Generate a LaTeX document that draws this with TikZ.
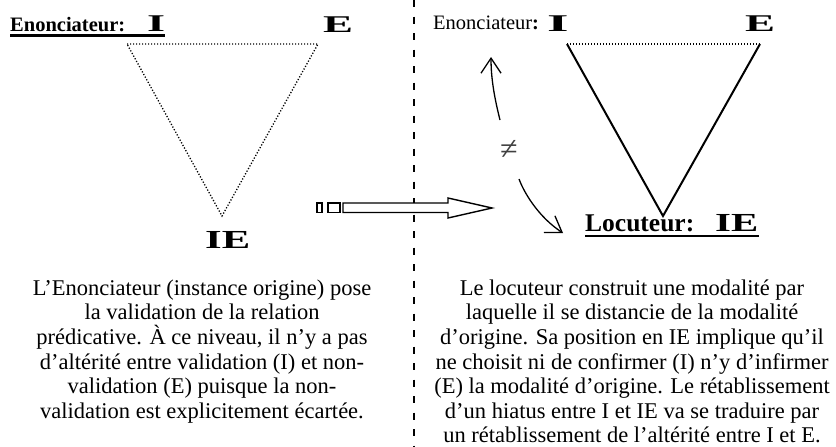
\documentclass[tikz,border=0pt]{standalone}
\usepackage{fontspec}
\usepackage{graphicx}
\setmainfont{Liberation Serif}
\usetikzlibrary{arrows.meta}
\newcommand\bigltr[3]{\scalebox{#1}[1]{\fontsize{#2}{#2}\selectfont\bfseries #3}}
\begin{document}
\begin{tikzpicture}[x=1pt,y=-1pt,
  lab/.style={inner sep=0, anchor=base west},
  body/.style={inner sep=0, anchor=north, align=center, font=\fontsize{22.5}{24.6}\selectfont},
  dotline/.style={line width=1.3pt, dash pattern=on 1.2pt off 1.8pt},
  solidside/.style={line width=2pt, line join=miter},
  uline/.style={line width=2.2pt},
  sepline/.style={line width=1.6pt, dash pattern=on 7pt off 9.5pt},
  blockarrow/.style={line width=1.4pt, fill=white, line join=miter},
  curvearrow/.style={line width=1.3pt, -{Straight Barb[length=15pt, width=20pt, line width=1.3pt]}}
]
\useasboundingbox (0,0) rectangle (836,447);

% separator
\coordinate (st) at (414,0);
\coordinate (sb) at (414,447);
\draw[sepline] (st) -- (sb);

% left header
\node[lab, font=\fontsize{20.5}{20.5}\selectfont\bfseries] (enL) at (10,31) {Enonciateur:};
\node[lab] (IL) at (147,31) {\bigltr{1.93}{24}{I}};
\draw[uline] ([yshift=-4.5pt]enL.base west) -- ([yshift=-4.5pt]IL.base east);
\node[lab] (EL) at (323,32) {\bigltr{1.87}{24}{E}};

% left triangle
\coordinate (la) at (127,44);
\coordinate (lb) at (318,44);
\coordinate (lc) at (222,216);
\draw[dotline] (la) -- (lb) -- (lc) -- cycle;
\node[lab] (IEL) at (205,248) {\bigltr{1.64}{26}{IE}};

% block arrow
\draw[blockarrow] (317,203) rectangle (322,212.5);
\draw[blockarrow] (328,203) rectangle (340,212.5);
\draw[blockarrow] (343,203) -- (448,203) -- (448,198) -- (492,208) -- (448,218) -- (448,212.5) -- (343,212.5) -- cycle;

% right header
\node[lab, font=\fontsize{20.5}{20.5}\selectfont] (enR) at (433,30) {Enonciateur\textbf{:}};
\node[lab] (IR) at (547,31) {\bigltr{2.3}{24}{I}};
\node[lab] (ER) at (745,31) {\bigltr{1.87}{24}{E}};

% right triangle
\coordinate (ra) at (567,44);
\coordinate (rb) at (760,44);
\coordinate (rc) at (663,216);
\draw[dotline] (ra) -- (rb);
\draw[solidside] (ra) -- (rc) -- (rb);

% locuteur
\node[lab, font=\fontsize{25.5}{25.5}\selectfont\bfseries] (loc) at (585,231) {Locuteur:};
\node[lab] (IER) at (715,231) {\bigltr{1.57}{26}{IE}};
\draw[uline] ([yshift=-5pt]loc.base west) -- ([yshift=-5pt]IER.base east);

% not equal and curved arrows
\node[text=black!75, inner sep=1pt, font=\fontsize{32}{32}\selectfont] (neq) at (509,150) {≠};
\coordinate (ua) at (500,120);
\coordinate (ut) at (491,57);
\draw[curvearrow] (ua) .. controls (495,100) and (491,80) .. (ut);
\coordinate (da) at (519,179);
\coordinate (dt) at (563,233);
\draw[curvearrow] (da) .. controls (525,195) and (540,218) .. (dt);

% paragraphs
\node[body] (txtL) at (202,279.5) {L’Enonciateur (instance origine) pose\\la validation de la relation\\prédicative. À ce niveau, il n’y a pas\\d’altérité entre validation (I) et non-\\validation (E) puisque la non-\\validation est explicitement écartée.};
\node[body] (txtR) at (632,279.5) {Le locuteur construit une modalité par\\laquelle il se distancie de la modalité\\d’origine. Sa position en IE implique qu’il\\ne choisit ni de confirmer (I) n’y d’infirmer\\(E) la modalité d’origine. Le rétablissement\\d’un hiatus entre I et IE va se traduire par\\un rétablissement de l’altérité entre I et E.};
\end{tikzpicture}
\end{document}
